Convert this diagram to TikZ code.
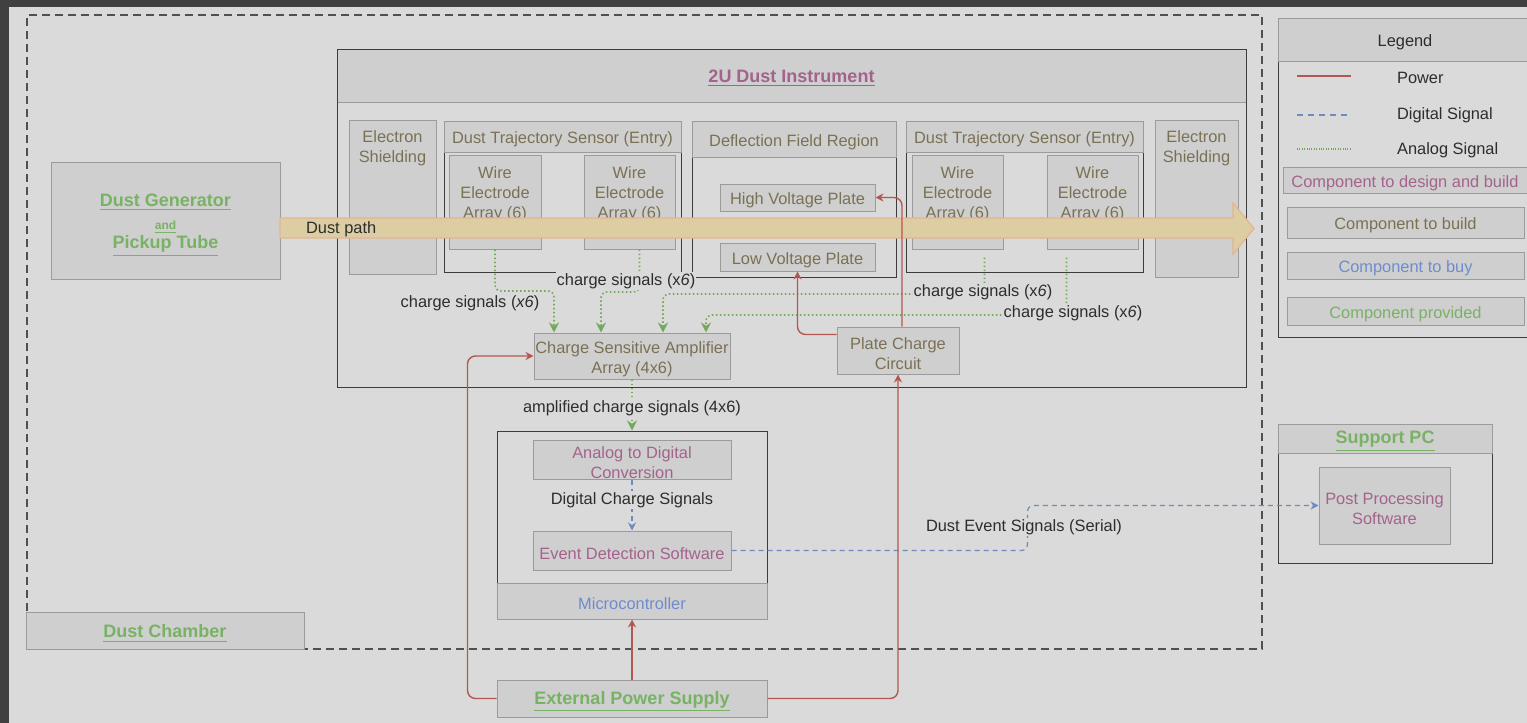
\documentclass[tikz,border=0pt]{standalone}
\usepackage{fontspec}
\setmainfont{Liberation Sans}
\usetikzlibrary{positioning,arrows.meta,calc,fit}
\definecolor{frame}{RGB}{64,64,64}
\definecolor{bg}{RGB}{218,218,218}
\definecolor{boxf}{RGB}{207,207,207}
\definecolor{boxd}{RGB}{155,155,155}
\definecolor{dark}{RGB}{60,60,60}
\definecolor{txt}{RGB}{45,45,45}
\definecolor{build}{RGB}{122,113,84}
\definecolor{design}{RGB}{163,99,140}
\definecolor{buy}{RGB}{110,140,205}
\definecolor{given}{RGB}{120,178,100}
\definecolor{power}{RGB}{182,86,82}
\definecolor{digital}{RGB}{108,140,190}
\definecolor{analog}{RGB}{118,168,92}
\definecolor{pathf}{RGB}{221,205,163}
\definecolor{pathd}{RGB}{228,180,145}

\begin{document}
\begin{tikzpicture}[x=0.5pt, y=-0.5pt,
  font=\fontsize{8.2}{10}\selectfont,
  every label/.style={yshift=-1.5pt},
  bx/.style={draw=boxd, fill=boxf, line width=0.5pt, inner sep=0pt},
  ct/.style={draw=dark, line width=0.5pt, inner sep=0pt},
  chb/.style={draw=dark!90, line width=1pt, dash pattern=on 4pt off 2.5pt, inner sep=0pt},
  tb/.style={text=build, align=center},
  td/.style={text=design, align=center},
  tu/.style={text=buy, align=center},
  tk/.style={text=txt, align=center},
  tg/.style={text=given, align=center, font=\fontsize{9}{10.5}\selectfont\bfseries},
  tp/.style={td, font=\fontsize{9}{10.5}\selectfont\bfseries},
  lb/.style={text=txt, fill=bg, inner sep=0.5pt},
  pwr/.style={-{Stealth[length=4pt,width=4pt]}, draw=power, line width=0.7pt, rounded corners=4pt},
  dig/.style={-{Stealth[length=4pt,width=4pt]}, draw=digital, line width=0.6pt, dash pattern=on 2.5pt off 2pt, rounded corners=3pt},
  ana/.style={-{Stealth[length=5pt,width=5pt]}, draw=analog, line width=0.8pt, dash pattern=on 0.8pt off 1.2pt, rounded corners=3pt}
]
% page and frame
\fill[frame] (0,0) rectangle (1527,723);
\fill[bg] (9,7) rectangle (1527,723);
\useasboundingbox (0,0) rectangle (1527,723);

% dust chamber
\node[chb, fit={(27,15) (1262,649)}] (ch) {};
\node[bx, fit={(26,612) (304,649)}, label={[tg]center:\underline{Dust Chamber}}] (chl) {};
\node[bx, fit={(51,162) (280,279)},
  label={[tg, yshift=-1pt]center:\underline{Dust Generator}\\[1pt]{\fontsize{6}{7}\selectfont\underline{and}}\\[-1pt]\underline{Pickup Tube}}] (dg) {};

% 2U instrument
\node[bx, fit={(337,49) (1246,102)}, label={[tp]center:\underline{2U Dust Instrument}}] (insh) {};
\node[ct, fit={(337,49) (1246,387)}] (ins) {};

\node[bx, fit={(349,120) (436,274)}] (es1) {};
\node[tb] (es1t) at (392.5,148) {Electron\\Shielding};

\node[ct, fit={(444,152) (681,272)}] (dts1) {};
\node[bx, fit={(444,121) (681,152)}, label={[tb]center:Dust Trajectory Sensor (Entry)}] (dts1h) {};
\node[bx, fit={(449,155) (541,249)}] (wl1) {};
\node[bx, fit={(584,155) (675,249)}] (wl2) {};
\node[tb] (wl1t) at (495,194) {Wire\\Electrode\\Array (6)};
\node[tb] (wl2t) at (629.5,194) {Wire\\Electrode\\Array (6)};

\node[ct, fit={(692,157) (896,277)}] (dfr) {};
\node[bx, fit={(692,121) (896,157)}, label={[tb]center:Deflection Field Region}] (dfrh) {};
\node[bx, fit={(720,184) (875,211)}, label={[tb]center:High Voltage Plate}] (hv) {};
\node[bx, fit={(720,243) (875,271)}, label={[tb]center:Low Voltage Plate}] (lv) {};

\node[ct, fit={(906,152) (1143,272)}] (dts2) {};
\node[bx, fit={(906,121) (1143,152)}, label={[tb]center:Dust Trajectory Sensor (Entry)}] (dts2h) {};
\node[bx, fit={(912,155) (1003,249)}] (wr1) {};
\node[bx, fit={(1047,155) (1138,249)}] (wr2) {};
\node[tb] (wr1t) at (957.5,194) {Wire\\Electrode\\Array (6)};
\node[tb] (wr2t) at (1092.5,194) {Wire\\Electrode\\Array (6)};

\node[bx, fit={(1155,120) (1238,277)}] (es2) {};
\node[tb] (es2t) at (1196.5,148) {Electron\\Shielding};

\node[bx, fit={(534,333) (730,379)}, label={[tb]center:Charge Sensitive Amplifier\\Array (4x6)}] (csa) {};
\node[bx, fit={(837,327) (959,374)}, label={[tb]center:Plate Charge\\Circuit}] (pcc) {};

% dust path
\draw[pathd, fill=pathf, line width=0.6pt] (280,218) -- (1233,218) -- (1233,203) -- (1254,228.5)
  -- (1233,254) -- (1233,238) -- (280,238) -- cycle;
\node[text=txt, anchor=west] (dpt) at (299,229) {Dust path};

% microcontroller
\node[ct, fit={(497,431) (767,583)}] (mcb) {};
\node[bx, fit={(497,583) (767,619)}, label={[tu]center:Microcontroller}] (mc) {};
\node[bx, fit={(533,440) (731,479)}, label={[td]center:Analog to Digital\\Conversion}] (adc) {};
\node[bx, fit={(533,531) (731,570)}, label={[td]center:Event Detection Software}] (eds) {};
\node[bx, fit={(497,680) (767,717)}, label={[tg]center:\underline{External Power Supply}}] (eps) {};

% support PC
\node[ct, fit={(1278,453) (1492,563)}] (spc) {};
\node[bx, fit={(1278,424) (1492,453)}, label={[tg]center:\underline{Support PC}}] (spch) {};
\node[bx, fit={(1319,467) (1450,544)}, label={[td]center:Post Processing\\Software}] (pps) {};

% legend
\node[ct, fit={(1278,18) (1532,337)}] (lg) {};
\node[bx, fit={(1278,18) (1532,61)}, label={[tk]center:Legend}] (lgh) {};
\coordinate (lp1) at (1297,76);  \coordinate (lp2) at (1351,76);
\coordinate (ld1) at (1297,115); \coordinate (ld2) at (1351,115);
\coordinate (la1) at (1297,149); \coordinate (la2) at (1351,149);
\draw[power, line width=1pt] (lp1) -- (lp2);
\draw[digital, line width=0.6pt, dash pattern=on 3pt off 2.5pt] (ld1) -- (ld2);
\draw[analog, line width=0.6pt, dash pattern=on 0.5pt off 0.7pt] (la1) -- (la2);
\node[text=txt, anchor=west] (lpt) at (1390,78) {Power};
\node[text=txt, anchor=west] (ldt) at (1390,115) {Digital Signal};
\node[text=txt, anchor=west] (lat) at (1390,150) {Analog Signal};
\node[bx, fit={(1283,167) (1527,193)}, label={[td]center:Component to design and build}] (lk1) {};
\node[bx, fit={(1287,207) (1524,238)}, label={[tb]center:Component to build}] (lk2) {};
\node[bx, fit={(1287,252) (1524,279)}, label={[tu]center:Component to buy}] (lk3) {};
\node[bx, fit={(1287,297) (1524,325)}, label={[text=given]center:Component provided}] (lk4) {};

% analog signals
\coordinate (c1) at (554,291);
\coordinate (c2) at (601,292);
\coordinate (c3) at (663,294);
\coordinate (c4) at (706,315);
\draw[ana] (wl1.south) |- (c1) -- (c1 |- csa.north);
\draw[ana] ([xshift=5pt]wl2.south) |- (c2) -- (c2 |- csa.north);
\draw[ana] ([xshift=13.5pt,yshift=-4pt]wr1.south) |- (c3) -- (c3 |- csa.north);
\draw[ana] ([xshift=-13pt,yshift=-4pt]wr2.south) |- (c4) -- (c4 |- csa.north);
\draw[ana] (csa.south) -- (mcb.north);
\node[lb] (cs1) at (470,303) {charge signals (\textit{x6})};
\node[lb] (cs2) at (626,281) {charge signals (x\textit{6})};
\node[lb] (cs3) at (983,292) {charge signals (x\textit{6})};
\node[lb] (cs4) at (1073,313) {charge signals (x\textit{6})};
\node[lb] (acs) at (632,408) {amplified charge signals (4x6)};

% digital signals
\draw[dig] (adc.south) -- (eds.north);
\draw[dig] (eds.east) -- ++(296,0) |- (pps.west);
\node[lb] (dcs) at (632,500) {Digital Charge Signals};
\node[lb] (des) at (1024,527) {Dust Event Signals (Serial)};

% power
\draw[pwr] (eps.west) -- ++(-29,0) |- (csa.west);
\draw[pwr] (eps.north) -- (mc.south);
\draw[pwr] (eps.east) -| (pcc.south);
\draw[pwr] ([yshift=8pt]pcc.west) -| (lv.south);
\draw[pwr] ([xshift=2pt]pcc.north) |- (hv.east);
\end{tikzpicture}
\end{document}
